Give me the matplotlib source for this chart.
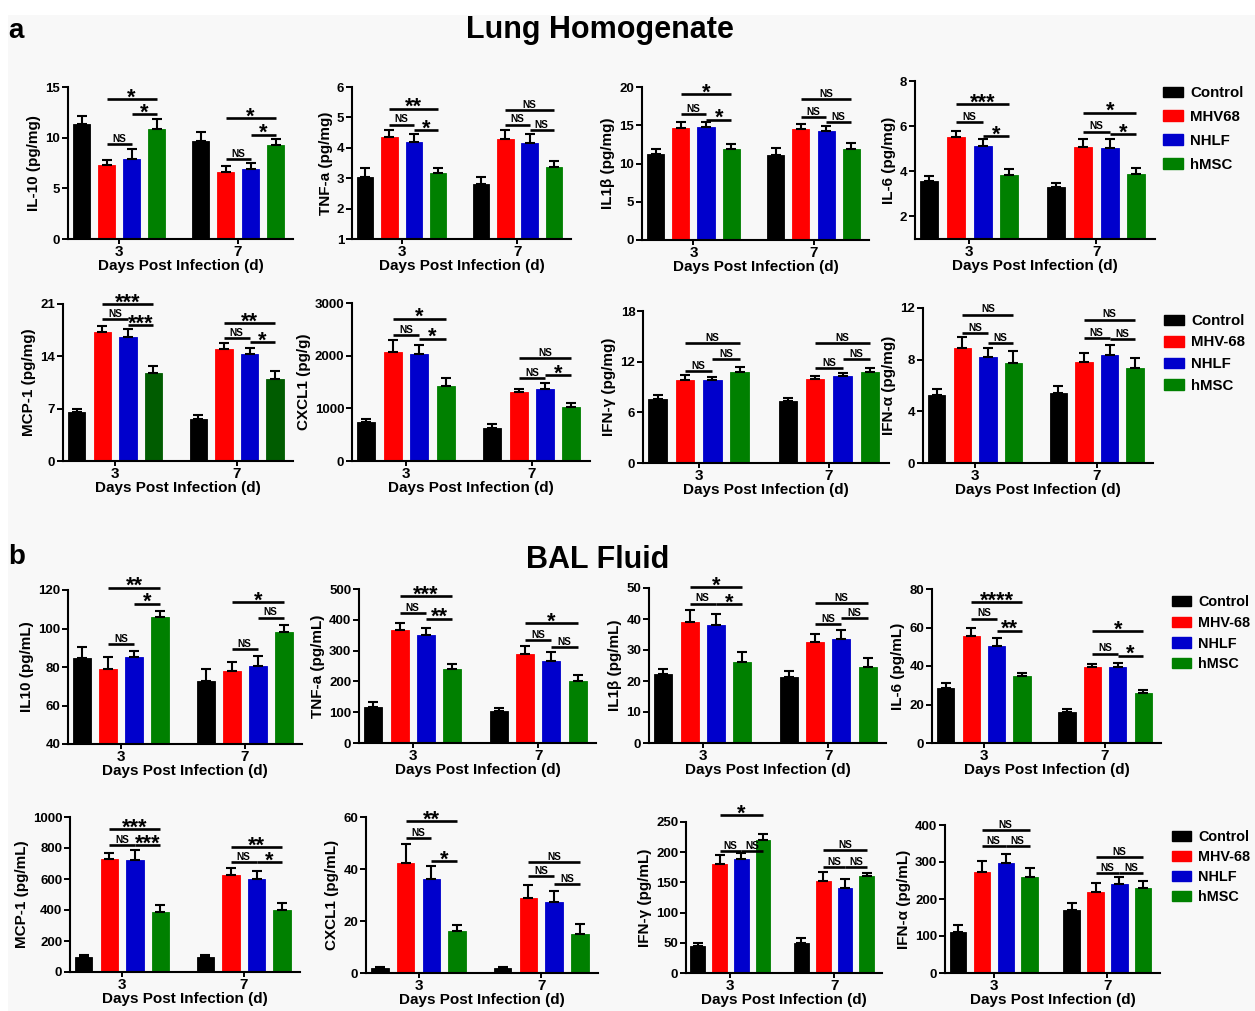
import matplotlib
matplotlib.use('Agg')
import numpy as np
import matplotlib.pyplot as plt
from matplotlib.patches import Patch, Rectangle

plt.rcParams['font.family'] = ['Liberation Sans', 'DejaVu Sans']
plt.rcParams['font.weight'] = 'bold'
plt.rcParams['axes.labelweight'] = 'bold'

W, H = 1255, 1011

days = ['3', '7']
groups_lung = ['Control', 'MHV68', 'NHLF', 'hMSC']
groups_bal = ['Control', 'MHV-68', 'NHLF', 'hMSC']
colors = ['#000000', '#ff0000', '#0000cc', '#008000']

# values: day 3 (Control, MHV68, NHLF, hMSC), then day 7 (same order)
# ---- a: lung homogenate ----
il10_lung = [11.3, 7.3, 7.9, 10.9, 9.7, 6.6, 6.9, 9.3]
il10_lung_err = [0.8, 0.5, 1.0, 0.9, 0.9, 0.6, 0.6, 0.6]
il10_lung_sig = [(0, 1, 3, 13.8, '*'), (0, 1, 2, 9.4, 'NS'), (0, 2, 3, 12.3, '*'),
                 (1, 1, 3, 11.9, '*'), (1, 1, 2, 7.9, 'NS'), (1, 2, 3, 10.3, '*')]

tnf_lung = [3.05, 4.35, 4.2, 3.18, 2.81, 4.29, 4.15, 3.36]
tnf_lung_err = [0.28, 0.22, 0.24, 0.16, 0.22, 0.28, 0.31, 0.2]
tnf_lung_sig = [(0, 1, 3, 5.29, '**'), (0, 1, 2, 4.76, 'NS'), (0, 2, 3, 4.57, '*'),
                (1, 1, 3, 5.23, 'NS'), (1, 1, 2, 4.76, 'NS'), (1, 2, 3, 4.57, 'NS')]

il1b_lung = [11.3, 14.7, 14.8, 11.95, 11.1, 14.5, 14.2, 11.9]
il1b_lung_err = [0.65, 0.75, 0.6, 0.55, 0.9, 0.7, 0.7, 0.8]
il1b_lung_sig = [(0, 1, 3, 19.1, '*'), (0, 1, 2, 16.5, 'NS'), (0, 2, 3, 15.75, '*'),
                 (1, 1, 3, 18.4, 'NS'), (1, 1, 2, 16.1, 'NS'), (1, 2, 3, 15.4, 'NS')]

il6_lung = [3.56, 5.52, 5.12, 3.85, 3.3, 5.09, 5.03, 3.89]
il6_lung_err = [0.22, 0.28, 0.32, 0.25, 0.19, 0.35, 0.41, 0.24]
il6_lung_sig = [(0, 1, 3, 6.97, '***'), (0, 1, 2, 6.17, 'NS'), (0, 2, 3, 5.55, '*'),
                (1, 1, 3, 6.6, '*'), (1, 1, 2, 5.76, 'NS'), (1, 2, 3, 5.66, '*')]

mcp1_lung = [6.52, 17.3, 16.65, 11.75, 5.6, 14.97, 14.35, 11.0]
mcp1_lung_err = [0.5, 0.75, 0.95, 0.95, 0.55, 0.75, 0.75, 1.0]
mcp1_lung_sig = [(0, 1, 3, 21.0, '***'), (0, 1, 2, 19.0, 'NS'), (0, 2, 3, 18.2, '***'),
                 (1, 1, 3, 18.4, '**'), (1, 1, 2, 16.4, 'NS'), (1, 2, 3, 15.9, '*')]

cxcl1_lung = [736, 2068, 2036, 1433, 634, 1307, 1376, 1021]
cxcl1_lung_err = [57, 234, 158, 140, 64, 69, 102, 76]
cxcl1_lung_sig = [(0, 1, 3, 2702, '*'), (0, 1, 2, 2385, 'NS'), (0, 2, 3, 2321, '*'),
                  (1, 1, 3, 1947, 'NS'), (1, 1, 2, 1573, 'NS'), (1, 2, 3, 1636, '*')]

ifng_lung = [7.63, 9.85, 9.77, 10.8, 7.32, 9.89, 10.36, 10.76]
ifng_lung_err = [0.44, 0.55, 0.4, 0.59, 0.43, 0.47, 0.24, 0.51]
ifng_lung_sig = [(0, 1, 3, 14.16, 'NS'), (0, 1, 2, 10.88, 'NS'), (0, 2, 3, 12.26, 'NS'),
                 (1, 1, 3, 14.24, 'NS'), (1, 1, 2, 11.2, 'NS'), (1, 2, 3, 12.34, 'NS')]

ifna_lung = [5.29, 8.94, 8.24, 7.78, 5.44, 7.8, 8.37, 7.34]
ifna_lung_err = [0.46, 0.78, 0.7, 0.9, 0.55, 0.73, 0.78, 0.82]
ifna_lung_sig = [(0, 1, 3, 11.48, 'NS'), (0, 1, 2, 10.05, 'NS'), (0, 2, 3, 9.28, 'NS'),
                 (1, 1, 3, 11.1, 'NS'), (1, 1, 2, 9.67, 'NS'), (1, 2, 3, 9.6, 'NS')]

# ---- b: BAL fluid ----
il10_bal = [84.9, 79.2, 85.3, 106.2, 72.8, 77.7, 80.3, 98.4]
il10_bal_err = [5.6, 5.9, 3.1, 3.1, 6.3, 4.8, 5.3, 3.6]
il10_bal_sig = [(0, 1, 3, 121.2, '**'), (0, 1, 2, 92.0, 'NS'), (0, 2, 3, 112.9, '*'),
                (1, 1, 3, 113.6, '*'), (1, 1, 2, 89.2, 'NS'), (1, 2, 3, 105.7, 'NS')]

tnf_bal = [118, 366, 350, 241, 104, 289, 267, 200]
tnf_bal_err = [15, 22, 24, 14, 11, 26, 28, 22]
tnf_bal_sig = [(0, 1, 3, 476, '***'), (0, 1, 2, 421, 'NS'), (0, 2, 3, 404, '**'),
               (1, 1, 3, 388, '*'), (1, 1, 2, 335, 'NS'), (1, 2, 3, 312, 'NS')]

il1b_bal = [22.1, 39.0, 38.2, 26.2, 21.2, 32.5, 33.5, 24.5]
il1b_bal_err = [1.8, 3.8, 3.5, 3.2, 2.1, 2.8, 3.0, 2.8]
il1b_bal_sig = [(0, 1, 3, 50.2, '*'), (0, 1, 2, 45.0, 'NS'), (0, 2, 3, 44.7, '*'),
                (1, 1, 3, 45.2, 'NS'), (1, 1, 2, 38.3, 'NS'), (1, 2, 3, 40.3, 'NS')]

il6_bal = [28.7, 55.5, 50.5, 34.6, 16.0, 39.5, 39.7, 25.8]
il6_bal_err = [2.5, 4.5, 4.0, 2.0, 1.5, 1.3, 2.0, 1.8]
il6_bal_sig = [(0, 1, 3, 73.2, '****'), (0, 1, 2, 64.6, 'NS'), (0, 2, 3, 58.4, '**'),
               (1, 1, 3, 58.0, '*'), (1, 1, 2, 46.4, 'NS'), (1, 2, 3, 45.4, '*')]

mcp1_bal = [100, 730, 725, 390, 100, 625, 600, 400]
mcp1_bal_err = [10, 40, 60, 40, 10, 45, 50, 45]
mcp1_bal_sig = [(0, 1, 3, 923, '***'), (0, 1, 2, 820, 'NS'), (0, 2, 3, 820, '***'),
                (1, 1, 3, 806, '**'), (1, 1, 2, 710, 'NS'), (1, 2, 3, 710, '*')]

cxcl1_bal = [2, 42.5, 36, 16, 2, 29, 27.5, 15]
cxcl1_bal_err = [0.5, 7, 5, 2.5, 0.5, 5, 4, 4]
cxcl1_bal_sig = [(0, 1, 3, 58.5, '**'), (0, 1, 2, 52, 'NS'), (0, 2, 3, 43, '*'),
                 (1, 1, 3, 42.7, 'NS'), (1, 1, 2, 37.3, 'NS'), (1, 2, 3, 34.2, 'NS')]

ifng_bal = [45, 180, 188, 220, 50, 152, 140, 160]
ifng_bal_err = [5, 15, 10, 10, 8, 15, 15, 6]
ifng_bal_sig = [(0, 1, 3, 261, '*'), (0, 1, 2, 202, 'NS'), (0, 2, 3, 202, 'NS'),
                (1, 1, 3, 204, 'NS'), (1, 1, 2, 175, 'NS'), (1, 2, 3, 175, 'NS')]

ifna_bal = [110, 272, 297, 260, 170, 218, 240, 230]
ifna_bal_err = [20, 30, 25, 25, 20, 25, 20, 20]
ifna_bal_sig = [(0, 1, 3, 386, 'NS'), (0, 1, 2, 343, 'NS'), (0, 2, 3, 343, 'NS'),
                (1, 1, 3, 313, 'NS'), (1, 1, 2, 270, 'NS'), (1, 2, 3, 270, 'NS')]

xpos = np.array([0, 1, 2, 3, 4.76, 5.76, 6.76, 7.76])


def draw_panel(fig, rect, ylabel, ylim, yticks, mean, err, sig, green='#008000'):
    x0, y0, x1, y1 = rect
    ax = fig.add_axes([x0 / W, 1 - y1 / H, (x1 - x0) / W, (y1 - y0) / H])
    ax.set_facecolor('none')
    cols = [colors[0], colors[1], colors[2], green] * 2
    ax.bar(xpos, mean, width=0.68, color=cols, edgecolor=cols, linewidth=0.6, zorder=2)
    ax.errorbar(xpos, mean, yerr=[np.zeros(len(err)), err], fmt='none', ecolor='black',
                elinewidth=1.5, capsize=3.5, capthick=1.5, zorder=3)
    for g, i, j, y, s in sig:
        xa, xb = xpos[g * 4 + i], xpos[g * 4 + j]
        ax.plot([xa, xb], [y, y], color='black', lw=1.9, clip_on=False,
                solid_capstyle='butt', zorder=4)
        if s == 'NS':
            ax.annotate(s, ((xa + xb) / 2, y), xytext=(0, 1.6), textcoords='offset points',
                        ha='center', va='baseline', fontsize=7.2, annotation_clip=False)
        else:
            ax.annotate(s, ((xa + xb) / 2, y), xytext=(0, -3.2), textcoords='offset points',
                        ha='center', va='baseline', fontsize=15.5, annotation_clip=False)
    ax.set_xlim(-0.54, 8.46)
    ax.set_ylim(*ylim)
    ax.set_yticks(yticks)
    ax.set_xticks([1.5, 6.26])
    ax.set_xticklabels(days, fontsize=11)
    ax.tick_params(axis='y', labelsize=9.5, width=1.4, length=4, pad=1.5)
    ax.tick_params(axis='x', width=1.4, length=3.5, pad=1)
    for side in ['top', 'right']:
        ax.spines[side].set_visible(False)
    for side in ['left', 'bottom']:
        ax.spines[side].set_linewidth(1.5)
    ax.set_ylabel(ylabel, fontsize=11, labelpad=3)
    ax.set_xlabel('Days Post Infection (d)', fontsize=11, labelpad=0)
    return ax


def add_legend(fig, labels, x, y, spacing, size):
    handles = [Patch(facecolor=c, edgecolor=c) for c in colors]
    fig.legend(handles, labels, loc='upper left', bbox_to_anchor=(x / W, 1 - y / H),
               frameon=False, prop={'weight': 'bold', 'size': size},
               handlelength=1.3, handleheight=0.7, handletextpad=0.5,
               labelspacing=spacing, borderaxespad=0, borderpad=0)


def main():
    fig = plt.figure(figsize=(W / 100, H / 100), dpi=100, facecolor='white')
    fig.patches.append(Rectangle((8 / W, 0), 1, 1 - 15 / H, transform=fig.transFigure,
                                 facecolor='#f8f8f8', edgecolor='none', zorder=-10))

    fig.text(8 / W, 1 - 31 / H, 'a', fontsize=20, fontweight='bold', va='center')
    fig.text(600 / W, 1 - 30 / H, 'Lung Homogenate', fontsize=22, fontweight='bold',
             ha='center', va='center')
    fig.text(8 / W, 1 - 557 / H, 'b', fontsize=20, fontweight='bold', va='center')
    fig.text(598 / W, 1 - 560 / H, 'BAL Fluid', fontsize=22, fontweight='bold',
             ha='center', va='center')

    # row a-1
    draw_panel(fig, (68, 87, 293, 239), 'IL-10 (pg/mg)', (0, 15), [0, 5, 10, 15],
               il10_lung, il10_lung_err, il10_lung_sig)
    draw_panel(fig, (352, 87, 571, 239), 'TNF-a (pg/mg)', (1, 6), [1, 2, 3, 4, 5, 6],
               tnf_lung, tnf_lung_err, tnf_lung_sig)
    draw_panel(fig, (642, 87, 869, 240), 'IL1β (pg/mg)', (0, 20), [0, 5, 10, 15, 20],
               il1b_lung, il1b_lung_err, il1b_lung_sig)
    draw_panel(fig, (915, 81, 1155, 239), 'IL-6 (pg/mg)', (1, 8), [2, 4, 6, 8],
               il6_lung, il6_lung_err, il6_lung_sig)
    add_legend(fig, groups_lung, 1163, 86, 0.66, 10.8)

    # row a-2
    draw_panel(fig, (63, 304, 293, 461), 'MCP-1 (pg/mg)', (0, 21), [0, 7, 14, 21],
               mcp1_lung, mcp1_lung_err, mcp1_lung_sig, green='#005c00')
    draw_panel(fig, (352, 303, 590, 461), 'CXCL1 (pg/g)', (0, 3000), [0, 1000, 2000, 3000],
               cxcl1_lung, cxcl1_lung_err, cxcl1_lung_sig)
    draw_panel(fig, (643, 311, 889, 463), 'IFN-γ (pg/mg)', (0, 18), [0, 6, 12, 18],
               ifng_lung, ifng_lung_err, ifng_lung_sig)
    draw_panel(fig, (923, 308, 1153, 463), 'IFN-α (pg/mg)', (0, 12), [0, 4, 8, 12],
               ifna_lung, ifna_lung_err, ifna_lung_sig)
    add_legend(fig, groups_bal, 1164, 314, 0.5, 10.8)

    # row b-1
    draw_panel(fig, (68, 590, 302, 744), 'IL10 (pg/mL)', (40, 120), [40, 60, 80, 100, 120],
               il10_bal, il10_bal_err, il10_bal_sig)
    draw_panel(fig, (359, 589, 596, 743), 'TNF-a (pg/mL)', (0, 500),
               [0, 100, 200, 300, 400, 500], tnf_bal, tnf_bal_err, tnf_bal_sig)
    draw_panel(fig, (649, 588, 886, 743), 'IL1β (pg/mL)', (0, 50), [0, 10, 20, 30, 40, 50],
               il1b_bal, il1b_bal_err, il1b_bal_sig)
    draw_panel(fig, (932, 589, 1161, 743), 'IL-6 (pg/mL)', (0, 80), [0, 20, 40, 60, 80],
               il6_bal, il6_bal_err, il6_bal_sig)
    add_legend(fig, groups_bal, 1172, 595, 0.47, 10.4)

    # row b-2
    draw_panel(fig, (70, 817, 300, 972), 'MCP-1 (pg/mL)', (0, 1000),
               [0, 200, 400, 600, 800, 1000], mcp1_bal, mcp1_bal_err, mcp1_bal_sig)
    draw_panel(fig, (366, 817, 598, 973), 'CXCL1 (pg/mL)', (0, 60), [0, 20, 40, 60],
               cxcl1_bal, cxcl1_bal_err, cxcl1_bal_sig)
    draw_panel(fig, (686, 822, 882, 973), 'IFN-γ (pg/mL)', (0, 250),
               [0, 50, 100, 150, 200, 250], ifng_bal, ifng_bal_err, ifng_bal_sig)
    draw_panel(fig, (945, 825, 1160, 973), 'IFN-α (pg/mL)', (0, 400),
               [0, 100, 200, 300, 400], ifna_bal, ifna_bal_err, ifna_bal_sig)
    add_legend(fig, groups_bal, 1172, 830, 0.42, 10.4)

    fig.savefig('out.png', dpi=100, facecolor=fig.get_facecolor())


if __name__ == '__main__':
    main()
